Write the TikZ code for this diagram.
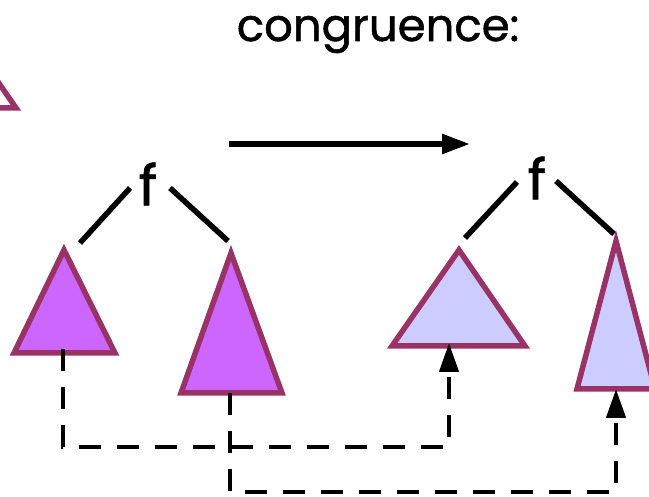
\documentclass[tikz,border=0pt]{standalone}
\usepackage{fontspec}
\setmainfont{Poppins}
\newfontfamily\heavy{Poppins}[FakeBold=1.2]
\usetikzlibrary{arrows.meta}
\definecolor{violetfill}{HTML}{CC66FF}
\definecolor{lavfill}{HTML}{CCCCFF}
\definecolor{edgecol}{HTML}{993366}
\begin{document}
\begin{tikzpicture}[x=1pt,y=-1pt,
  tri/.style={draw=edgecol,line width=5.5pt,line join=miter},
  branch/.style={line width=5.5pt},
  link/.style={line width=4.5pt,dash pattern=on 22pt off 16pt,-{Triangle[length=29pt,width=19pt]}},
  lbl/.style={inner sep=0pt,font=\heavy\fontsize{56}{60}\selectfont}]
\useasboundingbox (0,0) rectangle (649,497);
\clip (0,0) rectangle (649,497);
% partial triangle top-left
\draw[tri,fill=white] (16,108) -- (-50,12) -- (-116,108) -- cycle;
% title
\node[inner sep=0pt,anchor=base,font=\heavy\fontsize{45}{50}\selectfont] (title) at (378,41) {congruence:};
% main arrow
\coordinate (arrS) at (229,144);
\coordinate (arrE) at (470,144);
\draw[line width=5.5pt,-{Triangle[length=28pt,width=19pt]}] (arrS) -- (arrE);
% left tree
\node[lbl] (fL) at (148,184) {f};
\coordinate (aL1) at (64,250);
\coordinate (aL2) at (231,253);
\draw[tri,fill=violetfill] (aL1) -- (115,353) -- (14,353) -- cycle;
\draw[tri,fill=violetfill] (aL2) -- (282,393) -- (181,393) -- cycle;
\coordinate (lL1) at (80,243); \coordinate (uL1) at (130,188);
\coordinate (uL2) at (170,188); \coordinate (lL2) at (228,241);
\draw[branch] (lL1) -- (uL1);
\draw[branch] (uL2) -- (lL2);
% right tree
\node[lbl] (fR) at (537,178) {f};
\coordinate (aR1) at (459,250);
\coordinate (aR2) at (616,241);
\draw[tri,fill=lavfill] (aR1) -- (525,346) -- (392,346) -- cycle;
\draw[tri,fill=lavfill] (aR2) -- (655,389) -- (577,389) -- cycle;
\coordinate (lR1) at (465,238); \coordinate (uR1) at (517,182);
\coordinate (uR2) at (556,181); \coordinate (lR2) at (614,234);
\draw[branch] (lR1) -- (uR1);
\draw[branch] (uR2) -- (lR2);
% dashed correspondences
\coordinate (d1s) at (63,349);
\coordinate (d1e) at (449,343);
\coordinate (d2s) at (230,393);
\coordinate (d2e) at (616,389);
\draw[link] (d1s) |- (449,447) -- (d1e);
\draw[link] (d2s) |- (616,492) -- (d2e);
\end{tikzpicture}
\end{document}
